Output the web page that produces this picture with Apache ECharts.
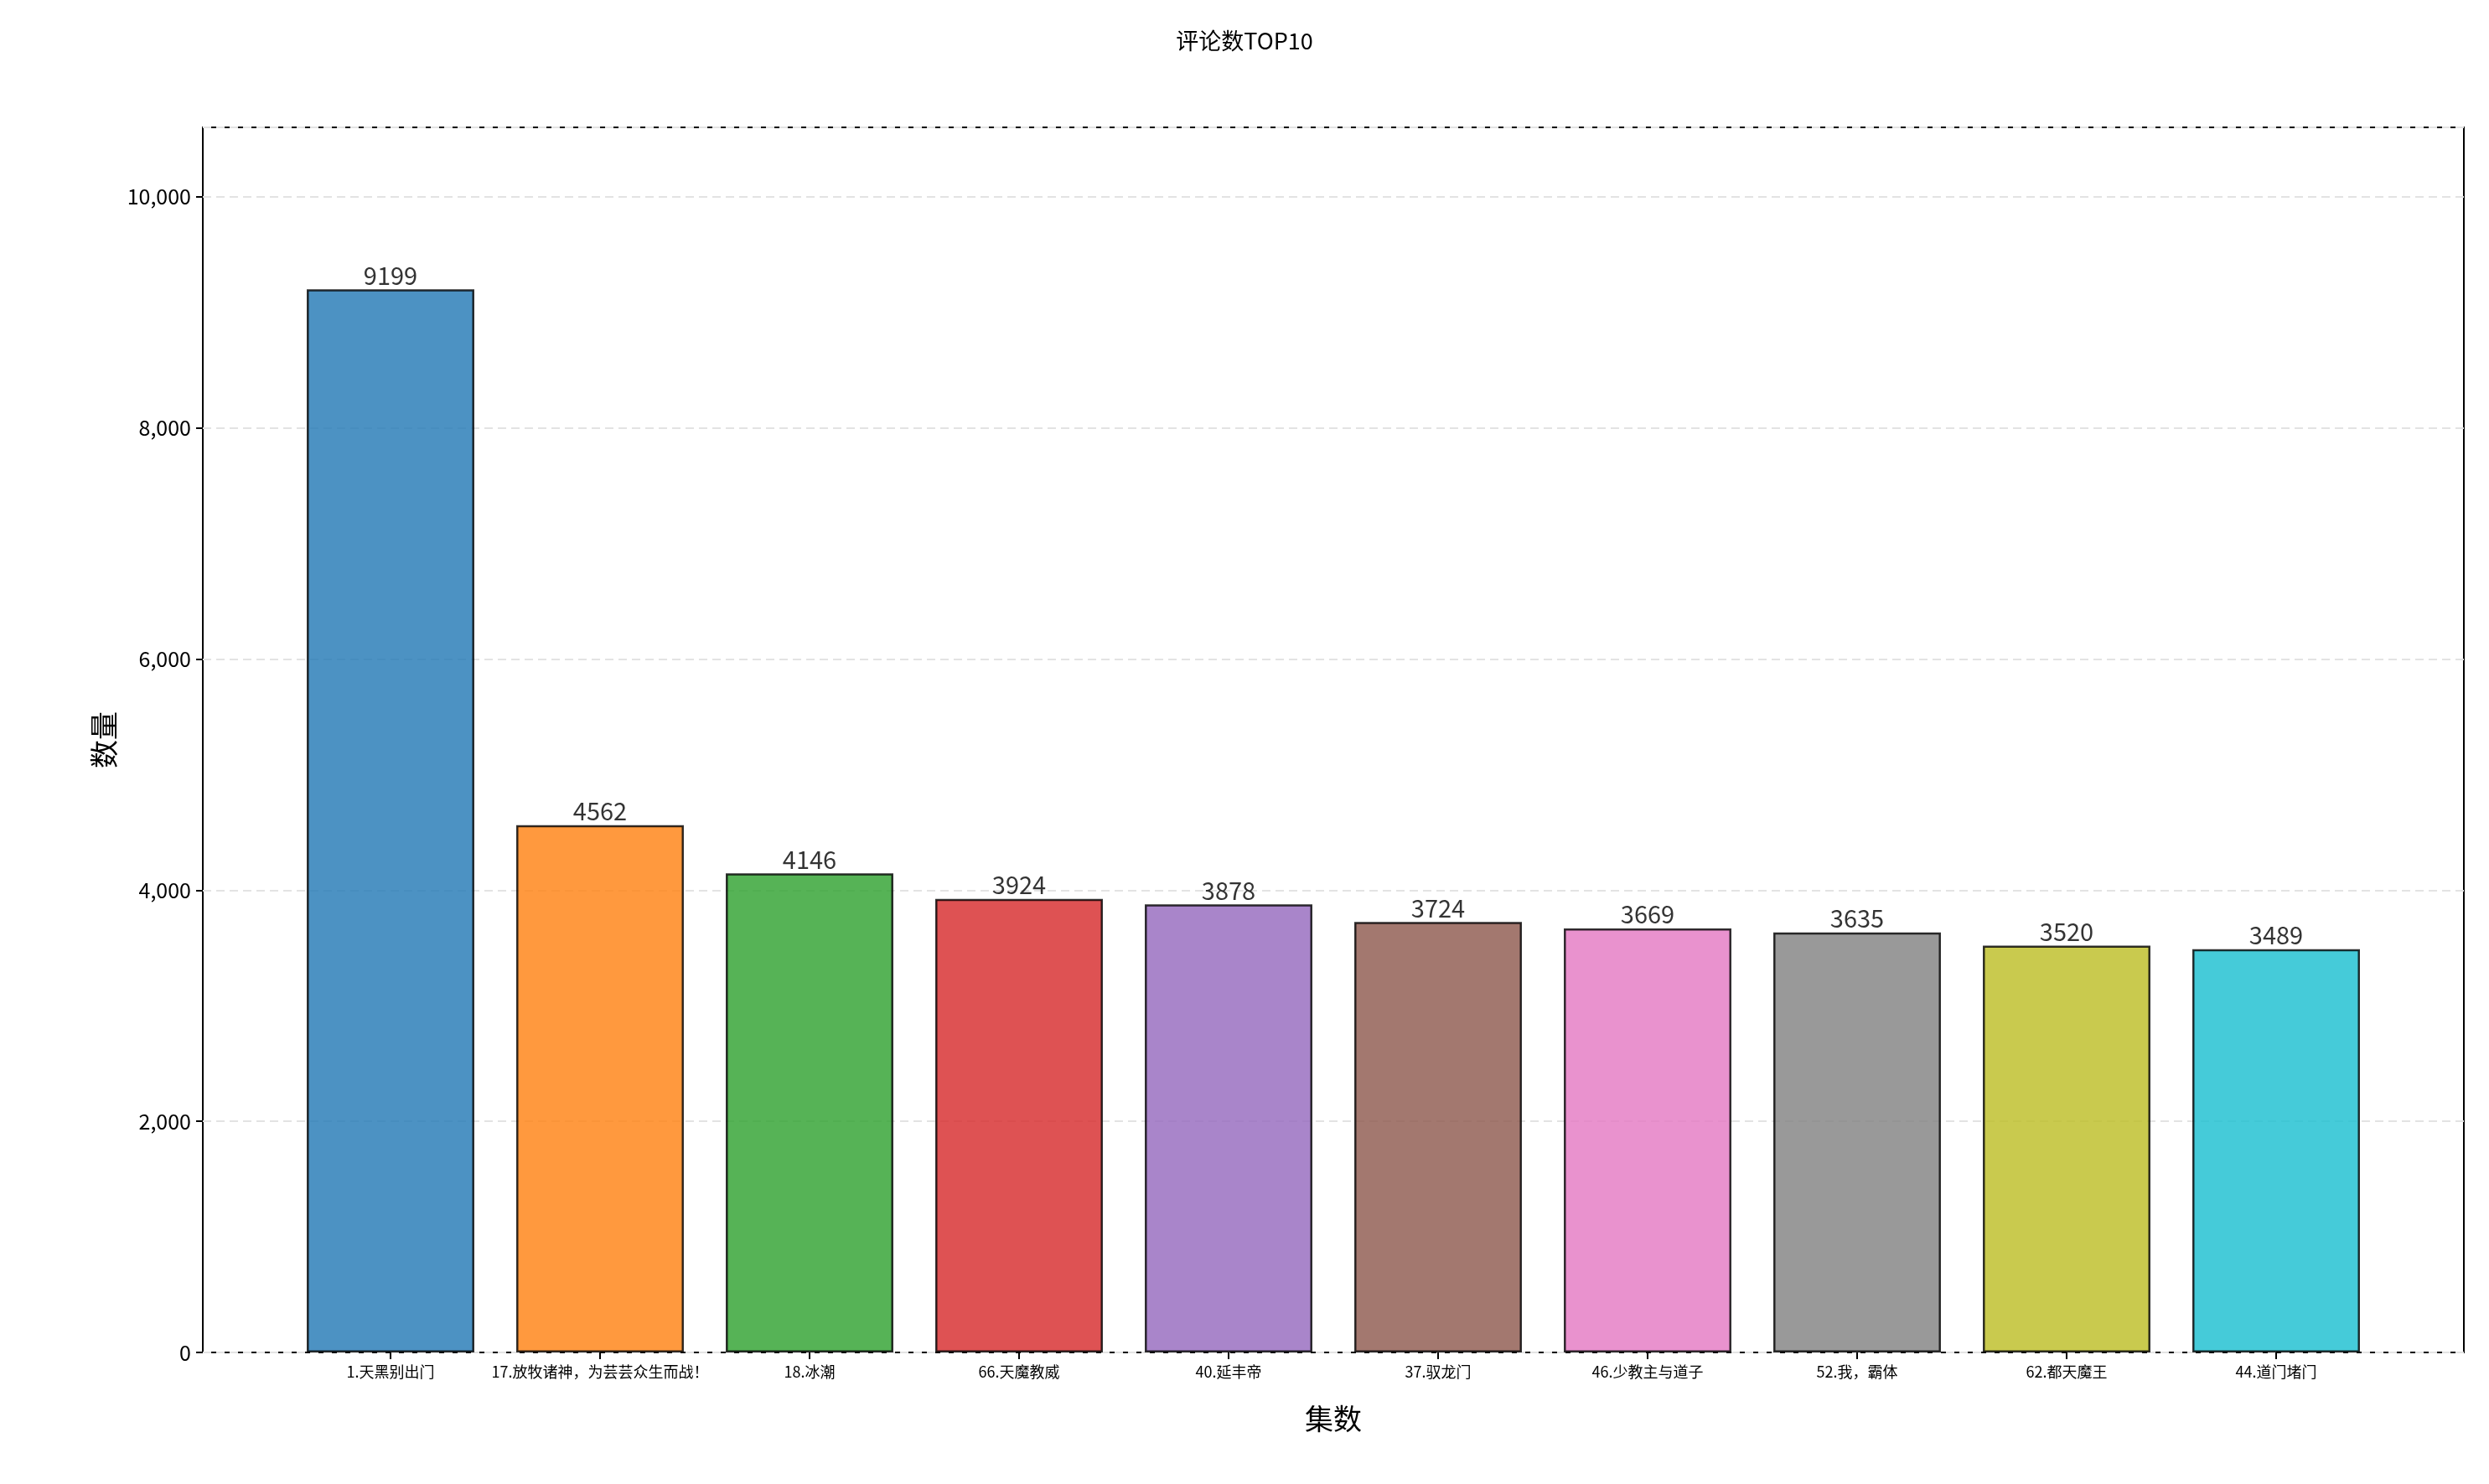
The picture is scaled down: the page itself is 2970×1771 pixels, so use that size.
<!DOCTYPE html><html><head><meta charset="utf-8"><script src="https://cdn.jsdelivr.net/npm/echarts@6/dist/echarts.min.js"></script>
<style>html,body{margin:0;background:#fff}#c{width:2970px;height:1771px}</style></head><body><div id="c"></div><script>
const categories=["1.天黑别出门","17.放牧诸神，为芸芸众生而战！","18.冰潮","66.天魔教威","40.延丰帝","37.驭龙门","46.少教主与道子","52.我，霸体","62.都天魔王","44.道门堵门"];
const values=[9199,4562,4146,3924,3878,3724,3669,3635,3520,3489];
const colors=["#1f77b4","#ff7f0e","#2ca02c","#d62728","#9467bd","#8c564b","#e377c2","#7f7f7f","#bcbd22","#17becf"];
const F='"Noto Sans CJK SC","Noto Sans",sans-serif';
const chart=echarts.init(document.getElementById('c'));
chart.setOption({
 title:{text:'评论数TOP10',left:'center',top:30,textStyle:{fontFamily:F,fontSize:27,fontWeight:'normal',color:'#000'}},
 grid:[{left:242,right:30,top:152,bottom:157,show:true,borderColor:'#000',borderWidth:2,backgroundColor:'transparent'},
       {left:341,right:129,top:152,bottom:157}],
 xAxis:[{gridIndex:0,type:'value',min:0,max:1,show:false},
  {gridIndex:1,type:'category',data:categories,axisLine:{show:false},axisTick:{show:true,alignWithLabel:true,length:8,lineStyle:{color:'#000',width:2}},
   axisLabel:{interval:0,fontFamily:F,fontSize:18,color:'#000',margin:14,hideOverlap:false},
   name:'集数',nameLocation:'middle',nameGap:62,nameTextStyle:{fontFamily:F,fontSize:34,color:'#000'}}],
 yAxis:[{gridIndex:0,type:'value',min:0,max:10600,interval:2000,
   axisLine:{show:false},axisTick:{show:true,length:8,lineStyle:{color:'#000',width:2}},
   axisLabel:{showMaxLabel:false,fontFamily:F,fontSize:25,color:'#000',margin:14},
   splitLine:{lineStyle:{type:[10,6],color:'#e3e3e3',width:2}},
   name:'数量',nameLocation:'middle',nameGap:94,nameTextStyle:{fontFamily:F,fontSize:34,color:'#000'}},
  {gridIndex:1,type:'value',min:0,max:10600,show:false,splitLine:{show:false}}],
 series:[{type:'bar',xAxisIndex:1,yAxisIndex:1,barCategoryGap:'20%',
   data:values.map((v,i)=>({value:v,itemStyle:{color:colors[i],opacity:0.8,borderColor:'#000',borderWidth:2.5}})),
   label:{show:true,position:'top',distance:2,fontFamily:F,fontSize:29,color:'#000'}}]
});
</script></body></html>
